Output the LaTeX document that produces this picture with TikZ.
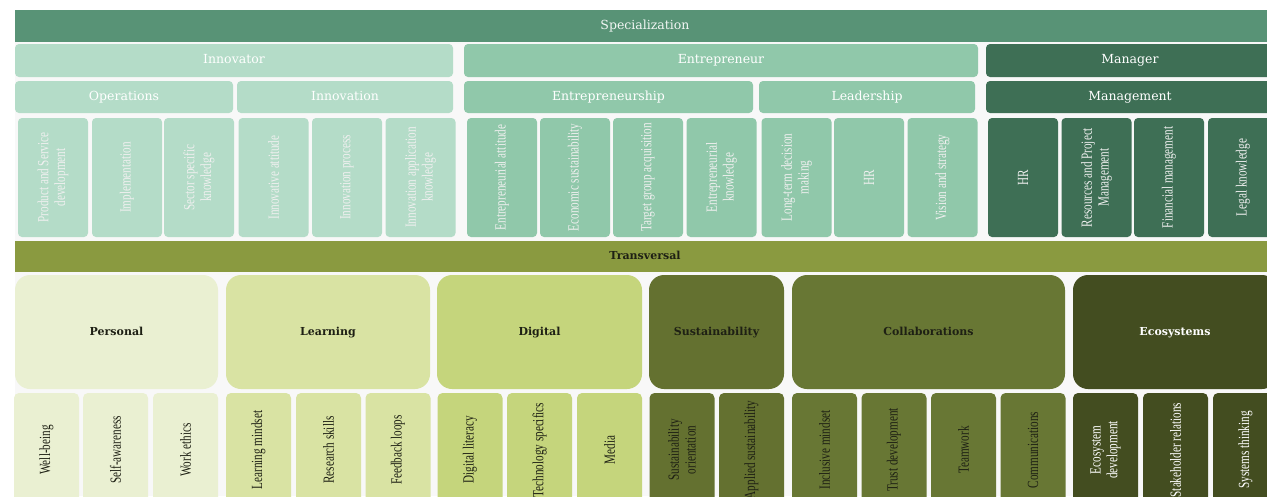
\documentclass[tikz,border=0pt]{standalone}
\usepackage{fontspec}
\setmainfont{Liberation Serif}
\newfontfamily\headfont{DejaVu Serif}
\newfontfamily\itemfont[FakeStretch=0.72]{Liberation Serif}

\definecolor{specgreen}{RGB}{88,147,118}
\definecolor{innolight}{RGB}{180,220,200}
\definecolor{entremid}{RGB}{144,200,170}
\definecolor{mandark}{RGB}{62,111,85}
\definecolor{transolive}{RGB}{138,154,64}
\definecolor{perscol}{RGB}{234,240,210}
\definecolor{learncol}{RGB}{217,227,163}
\definecolor{digicol}{RGB}{197,213,124}
\definecolor{sustcol}{RGB}{100,113,48}
\definecolor{collcol}{RGB}{104,119,52}
\definecolor{ecocol}{RGB}{67,77,32}
\definecolor{darktext}{RGB}{30,32,20}
\definecolor{gapgray}{RGB}{248,248,248}

\tikzset{
  box/.style={inner sep=0pt, outer sep=0pt, align=center, rounded corners=4pt},
  band/.style={box, rounded corners=0pt, minimum width=1260pt, minimum height=32pt,
    text height=9pt, text depth=2.5pt},
  role/.style={box, minimum height=33pt, text=white, text height=9pt, text depth=2.5pt,
    font=\headfont\fontsize{12.5}{14}\selectfont},
  area/.style={box, minimum height=32pt, text=white, text height=9pt, text depth=2.5pt,
    font=\headfont\fontsize{12.5}{14}\selectfont},
  skill/.style={box, rotate=90, minimum width=119pt, minimum height=70pt,
    text=white!94!black, font=\itemfont\fontsize{15.5}{16.7}\selectfont},
  group/.style={box, rounded corners=15pt, minimum height=114pt, text=darktext,
    text height=8.5pt, text depth=2.5pt,
    font=\headfont\bfseries\fontsize{11}{13}\selectfont},
  trait/.style={box, rounded corners=5pt, rotate=90, minimum width=114pt,
    minimum height=65pt, text=darktext, font=\itemfont\fontsize{15.5}{16.7}\selectfont}
}

\begin{document}
\begin{tikzpicture}[x=1pt, y=-1pt]
  \useasboundingbox (0,0) rectangle (1267,496);
  \clip (0,0) rectangle (1267,496);
  \fill[white] (0,0) rectangle (1267,496);
  \fill[gapgray] (15,42) rectangle (1267,496);

  % specialization part
  \node[band, fill=specgreen, text=white!92!specgreen,
    font=\headfont\fontsize{12.5}{14}\selectfont] (spec) at (645,26) {Specialization};

  \node[role, fill=innolight, minimum width=438pt] (innovator) at (234,60.5) {Innovator};
  \node[role, fill=entremid, minimum width=514pt] (entrepreneur) at (721,60.5) {Entrepreneur};
  \node[role, fill=mandark, minimum width=288pt] (manager) at (1130,60.5) {Manager};

  \node[area, fill=innolight, minimum width=218pt] (operations) at (124,97) {Operations};
  \node[area, fill=innolight, minimum width=216pt] (innovation) at (345,97) {Innovation};
  \node[area, fill=entremid, minimum width=289pt] (entrepreneurship) at (608.5,97) {Entrepreneurship};
  \node[area, fill=entremid, minimum width=216pt] (leadership) at (867,97) {Leadership};
  \node[area, fill=mandark, minimum width=288pt] (management) at (1130,97) {Management};

  \node[skill, fill=innolight] (prodserv) at (53,177.5) {Product and Service\\development};
  \node[skill, fill=innolight] (implement) at (127,177.5) {Implementation};
  \node[skill, fill=innolight] (sector) at (199,177.5) {Sector specific\\knowledge};
  \node[skill, fill=innolight] (innoatt) at (273.5,177.5) {Innovative attitude};
  \node[skill, fill=innolight] (innoproc) at (347,177.5) {Innovation process};
  \node[skill, fill=innolight] (innoapp) at (420.5,177.5) {Innovation application\\knowledge};
  \node[skill, fill=entremid] (entreatt) at (502,177.5) {Entrepreneurial attitude};
  \node[skill, fill=entremid] (econsust) at (575,177.5) {Economic sustainability};
  \node[skill, fill=entremid] (target) at (648,177.5) {Target group acquisition};
  \node[skill, fill=entremid] (entreknow) at (721.5,177.5) {Entrepreneurial\\knowledge};
  \node[skill, fill=entremid] (longterm) at (796.5,177.5) {Long-term decision\\making};
  \node[skill, fill=entremid] (leadhr) at (869,177.5) {HR};
  \node[skill, fill=entremid] (vision) at (942.5,177.5) {Vision and strategy};
  \node[skill, fill=mandark] (manhr) at (1023,177.5) {HR};
  \node[skill, fill=mandark] (resources) at (1096.5,177.5) {Resources and Project\\Management};
  \node[skill, fill=mandark] (financial) at (1169,177.5) {Financial management};
  \node[skill, fill=mandark] (legal) at (1243,177.5) {Legal knowledge};

  % transversal part
  \node[band, fill=transolive, minimum height=31pt, text=darktext,
    font=\headfont\bfseries\fontsize{11}{13}\selectfont] (trans) at (645,256.5) {Transversal};

  \node[group, fill=perscol, minimum width=203pt] (personal) at (116.5,332) {Personal};
  \node[group, fill=learncol, minimum width=204pt] (learning) at (328,332) {Learning};
  \node[group, fill=digicol, minimum width=205pt] (digital) at (539.5,332) {Digital};
  \node[group, fill=sustcol, minimum width=135pt] (sustain) at (716.5,332) {Sustainability};
  \node[group, fill=collcol, minimum width=273pt] (collab) at (928.5,332) {Collaborations};
  \node[group, fill=ecocol, minimum width=204pt, text=white] (ecosys) at (1175,332) {Ecosystems};

  \node[trait, fill=perscol] (wellbeing) at (46.5,450) {Well-being};
  \node[trait, fill=perscol] (selfaware) at (115.5,450) {Self-awareness};
  \node[trait, fill=perscol] (workethics) at (185.5,450) {Work ethics};
  \node[trait, fill=learncol] (learnmind) at (258.5,450) {Learning mindset};
  \node[trait, fill=learncol] (research) at (328.5,450) {Research skills};
  \node[trait, fill=learncol] (feedback) at (398,450) {Feedback loops};
  \node[trait, fill=digicol] (digilit) at (470,450) {Digital literacy};
  \node[trait, fill=digicol] (techspec) at (539.5,450) {Technology specifics};
  \node[trait, fill=digicol] (media) at (609.5,450) {Media};
  \node[trait, fill=sustcol] (sustorient) at (682,450) {Sustainability\\orientation};
  \node[trait, fill=sustcol] (appsust) at (751.5,450) {Applied sustainability};
  \node[trait, fill=collcol] (inclusive) at (824.5,450) {Inclusive mindset};
  \node[trait, fill=collcol] (trust) at (894,450) {Trust development};
  \node[trait, fill=collcol] (teamwork) at (963.5,450) {Teamwork};
  \node[trait, fill=collcol] (communic) at (1033,450) {Communications};
  \node[trait, fill=ecocol, text=white] (ecodev) at (1105.5,450) {Ecosystem\\development};
  \node[trait, fill=ecocol, text=white] (stakeholder) at (1175.5,450) {Stakeholder relations};
  \node[trait, fill=ecocol, text=white] (systhink) at (1245.5,450) {Systems thinking};
\end{tikzpicture}
\end{document}
